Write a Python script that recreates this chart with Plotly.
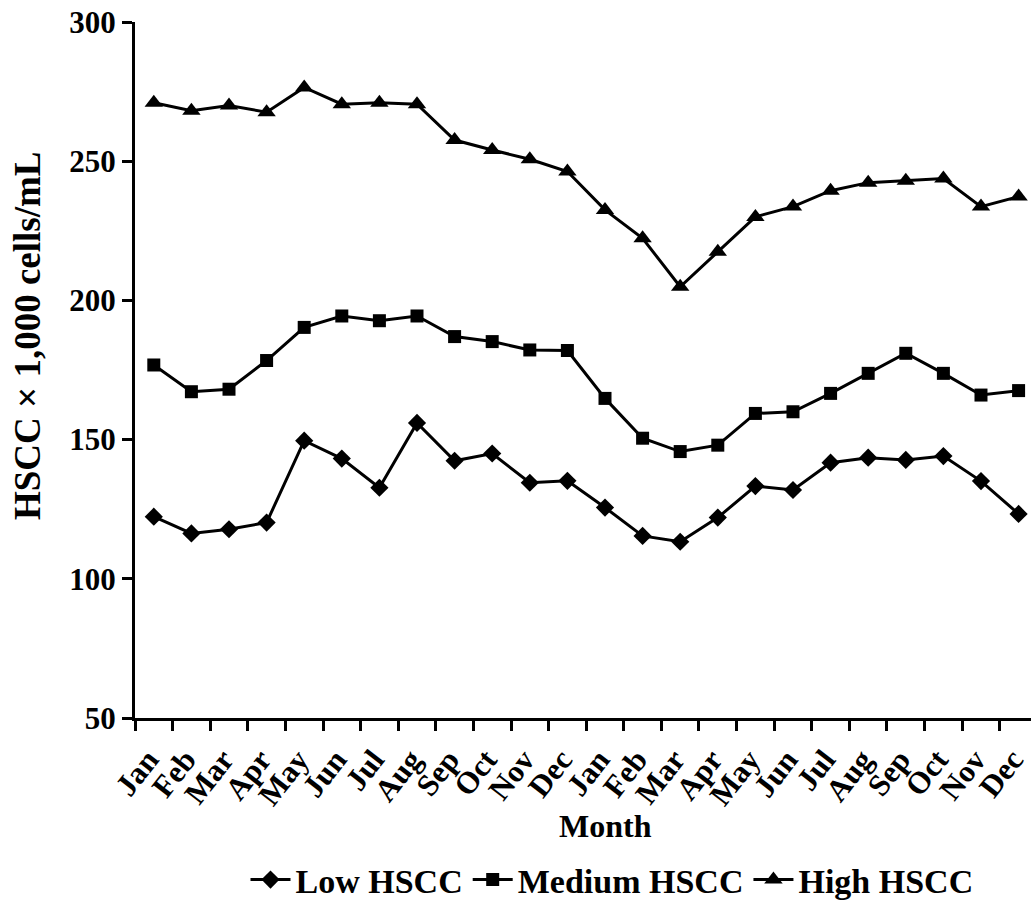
import plotly.graph_objects as go

months = ["Jan", "Feb", "Mar", "Apr", "May", "Jun", "Jul", "Aug", "Sep", "Oct", "Nov", "Dec",
          "Jan", "Feb", "Mar", "Apr", "May", "Jun", "Jul", "Aug", "Sep", "Oct", "Nov", "Dec"]

low_hscc = [122.3, 116.3, 117.8, 120.2, 149.6, 143.2, 132.7, 156.0, 142.4, 145.0, 134.5, 135.2,
            125.6, 115.4, 113.3, 122.0, 133.3, 131.9, 141.7, 143.5, 142.7, 144.1, 135.1, 123.3]
medium_hscc = [176.8, 167.2, 168.1, 178.4, 190.3, 194.4, 192.7, 194.4, 187.0, 185.2, 182.2, 182.0,
               164.8, 150.5, 145.7, 148.0, 159.4, 160.0, 166.6, 173.8, 181.0, 173.8, 166.0, 167.6]
high_hscc = [271.0, 268.1, 270.0, 267.6, 276.5, 270.5, 271.0, 270.5, 257.6, 254.0, 250.7, 246.3,
             232.5, 222.3, 204.9, 217.5, 230.0, 233.7, 239.4, 242.3, 243.0, 243.8, 233.7, 237.3]

y_ticks = [50, 100, 150, 200, 250, 300]

x_idx = list(range(len(months)))
FONT = "Liberation Serif, Times New Roman, serif"

fig = go.Figure()
series = [
    ("Low HSCC", low_hscc, "diamond", 14),
    ("Medium HSCC", medium_hscc, "square", 13),
    ("High HSCC", high_hscc, "triangle-up", 16),
]
for name, vals, sym, sz in series:
    fig.add_trace(go.Scatter(
        x=x_idx, y=vals, name=name, mode="lines+markers",
        line=dict(color="black", width=3),
        marker=dict(symbol=sym, size=sz, color="black"),
        cliponaxis=False,
    ))

# page body margin removed below; plot area at x 135..1031, y 22..718
fig.update_layout(
    width=1031, height=901,
    margin=dict(l=135, r=0, t=22, b=183, autoexpand=False),
    paper_bgcolor="white", plot_bgcolor="white",
    font=dict(family=FONT, color="black", size=26, weight="bold"),
    showlegend=True,
    legend=dict(orientation="h", x=(612 - 135) / 896, xanchor="center",
                y=(718 - 880) / 696, yanchor="middle",
                font=dict(family=FONT, size=34, color="black", weight="bold"),
                itemwidth=40, tracegroupgap=0),
)

fig.update_xaxes(
    range=[-0.5, 23.33],
    automargin=False,
    tickmode="array", tickvals=x_idx, ticktext=months,
    tickangle=-52,
    ticks="outside", ticklen=8, tickcolor="rgba(0,0,0,0)",
    ticklabeloverflow="allow",
    ticklabelshift=-6,
    minor=dict(tickvals=[i - 0.5 for i in range(len(months) + 1)], ticks="outside",
               ticklen=10, tickwidth=3, tickcolor="black", showgrid=False),
    tickfont=dict(family=FONT, size=31, color="black", weight="bold"),
    showline=True, linecolor="black", linewidth=3,
    showgrid=False, zeroline=False,
)
fig.update_yaxes(
    range=[50, 300],
    automargin=False,
    tickmode="array", tickvals=y_ticks,
    ticks="outside", ticklen=10, tickwidth=3, tickcolor="black",
    ticklabeloverflow="allow",
    tickfont=dict(family=FONT, size=31, color="black", weight="bold"),
    showline=True, linecolor="black", linewidth=3,
    showgrid=False, zeroline=False,
)

fig.add_annotation(
    text="HSCC × 1,000 cells/mL", xref="paper", yref="paper",
    x=(27 - 135) / 896, y=(718 - 336) / 696, textangle=-90,
    showarrow=False, xanchor="center", yanchor="middle",
    font=dict(family=FONT, size=37, color="black", weight="bold"),
)
fig.add_annotation(
    text="Month", xref="paper", yref="paper",
    x=(605 - 135) / 896, y=(718 - 826) / 696,
    showarrow=False, xanchor="center", yanchor="middle",
    font=dict(family=FONT, size=32, color="black", weight="bold"),
)

fig.write_html("out.html",
               config={"displayModeBar": False},
               post_script="document.body.style.margin='0';document.body.style.overflow='hidden';")
